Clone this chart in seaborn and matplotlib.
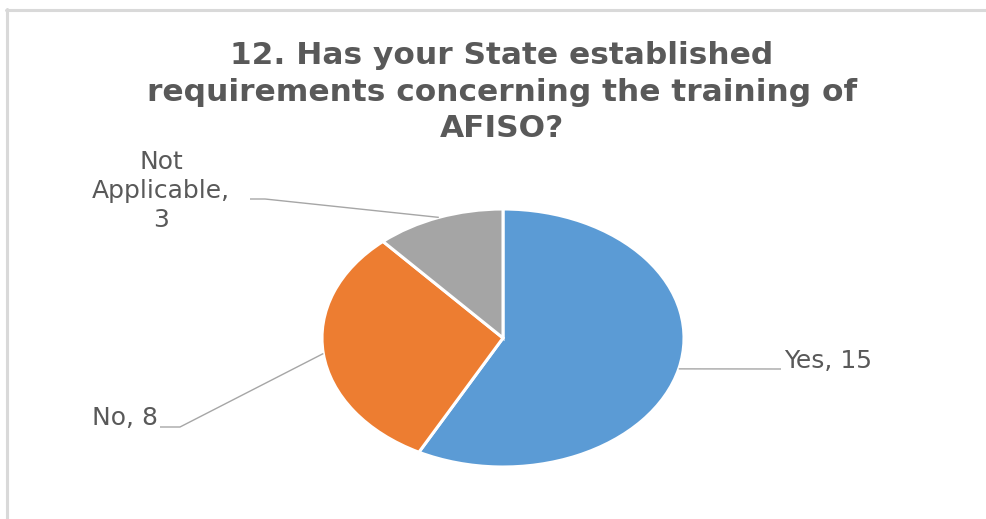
import numpy as np
import matplotlib
matplotlib.use("Agg")
import matplotlib.pyplot as plt
from matplotlib.lines import Line2D
import seaborn as sns

# Survey responses
categories = ["Yes", "No", "Not Applicable"]
counts = [15, 8, 3]
label_texts = ["Yes, 15", "No, 8", "Not\nApplicable,\n3"]
title_text = "12. Has your State established\nrequirements concerning the training of\nAFISO?"

sns.set_theme(style="white")
plt.rcParams["font.family"] = ["DejaVu Sans"]
palette = sns.color_palette(["#5B9BD5", "#ED7D31", "#A5A5A5"])

W, H, DPI = 987, 519, 100
fig = plt.figure(figsize=(W / DPI, H / DPI), dpi=DPI)
fig.patch.set_facecolor("white")

# Pie geometry in pixels (the pie is drawn as an ellipse)
cx, cy = 503, 338
rx, ry = 181, 129

ax = fig.add_axes([0, 0, 1, 1])
wedges, _ = ax.pie(
    counts,
    colors=palette,
    startangle=90,
    counterclock=False,
    radius=1.0,
    wedgeprops=dict(edgecolor="white", linewidth=2.2),
)
ax.set_aspect("auto")
ax.set_xlim(-cx / rx, (W - cx) / rx)
ax.set_ylim(-(H - cy) / ry, cy / ry)
ax.axis("off")


def to_data(px, py):
    return (px - cx) / rx, (cy - py) / ry


# Label anchors (pixels), alignment and leader-line routing
label_pos = [(784, 361), (158, 418), (161, 191)]
label_ha = ["left", "right", "center"]
elbow_x = [781, 180, 265]
line_y = [369, 427, 199]
line_end_x = [781, 160, 250]

text_color = "#595959"
line_color = "#A6A6A6"

total = sum(counts)
start = 90.0
for i, c in enumerate(counts):
    sweep = 360.0 * c / total
    mid = np.deg2rad(start - sweep / 2)
    start -= sweep
    x0, y0 = np.cos(mid), np.sin(mid)
    ex, ey = to_data(elbow_x[i], line_y[i])
    lx, ly = to_data(line_end_x[i], line_y[i])
    ax.plot([x0, ex, lx], [y0, ey, ly], color=line_color, lw=1.0,
            solid_capstyle="butt", zorder=1)
    tx, ty = to_data(*label_pos[i])
    ax.text(tx, ty, label_texts[i], ha=label_ha[i], va="center",
            fontsize=18, color=text_color, linespacing=1.27)

fig.text(502 / W, 1 - 92 / H, title_text, ha="center", va="center",
         fontsize=22.5, fontweight="bold", color=text_color, linespacing=1.33)

# Chart frame edges
fig.add_artist(Line2D([6 / W, 1.0], [1 - 10 / H, 1 - 10 / H],
                      color="#D9D9D9", lw=2.2, transform=fig.transFigure))
fig.add_artist(Line2D([7.5 / W, 7.5 / W], [1 - 9 / H, 0.0],
                      color="#D9D9D9", lw=2.2, transform=fig.transFigure))

fig.savefig("out.png", dpi=DPI, facecolor="white")
